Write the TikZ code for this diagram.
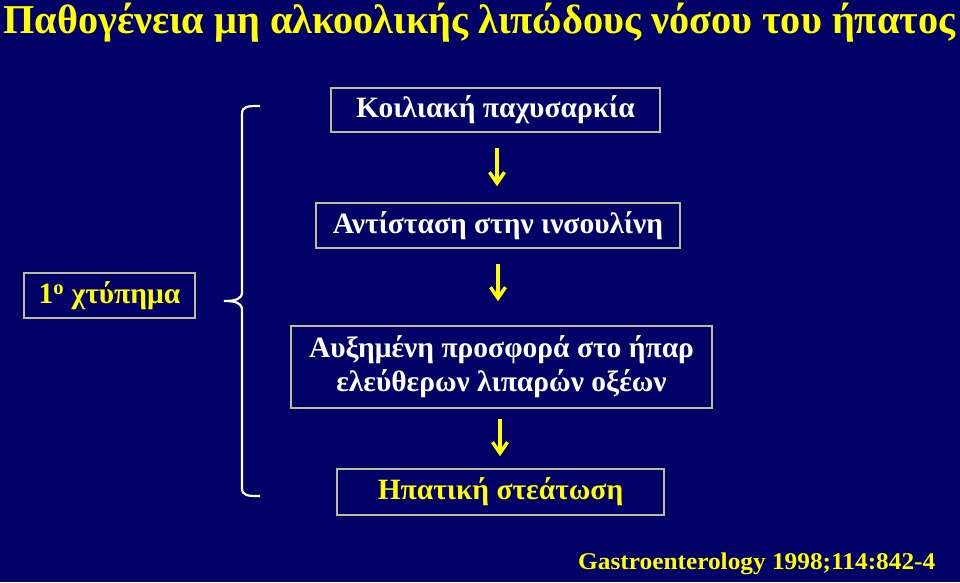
\documentclass[tikz,border=0pt]{standalone}
\usepackage{fontspec}
\setmainfont{Liberation Serif}
\usetikzlibrary{arrows.meta}
\definecolor{bgnavy}{RGB}{0,0,102}
\definecolor{ylw}{RGB}{255,255,0}
\definecolor{boxline}{RGB}{190,190,150}
\begin{document}
\begin{tikzpicture}[x=1pt,y=-1pt,
  box/.style={draw=boxline,line width=1.6pt,fill=bgnavy,inner sep=0pt,
    font=\bfseries\fontsize{29.5}{34}\selectfont,text=white,align=center},
  arr/.style={draw=ylw,line width=3.4pt,-{Straight Barb[length=11pt,width=15pt,line width=3.4pt]}},
  brace/.style={draw=white,line width=2.2pt}]
\fill[bgnavy] (0,0) rectangle (960,582);
\useasboundingbox (0,0) rectangle (960,582);
% title
\node[anchor=base west,inner sep=0pt,text=ylw] (title) at (3,33)
  {\resizebox{952pt}{\height}{\bfseries\fontsize{41}{48}\selectfont Παθογένεια μη αλκοολικής λιπώδους νόσου του ήπατος}};
% boxes
\node[box,minimum width=329pt,minimum height=44pt] (b1) at (495.5,110) {Κοιλιακή παχυσαρκία};
\node[box,minimum width=364pt,minimum height=45pt] (b2) at (498,225.5) {Αντίσταση στην ινσουλίνη};
\node[box,minimum width=421pt,minimum height=82pt] (b3) at (501.5,367) {Αυξημένη προσφορά στο ήπαρ\\ελεύθερων λιπαρών οξέων};
\node[box,minimum width=327pt,minimum height=46pt,text=ylw] (b4) at (500.5,492) {Ηπατική στεάτωση};
\node[box,minimum width=171pt,minimum height=45pt,text=ylw] (hit) at (109.5,295.5) {1\textsuperscript{o} χτύπημα};
% arrows
\draw[arr,shorten <=15pt,shorten >=16pt] ([xshift=1.5pt]b1.south) -- ([xshift=1.5pt]b1.south |- b2.north);
\draw[arr,shorten <=15pt,shorten >=24pt] (b2.south) -- (b2.south |- b3.north);
\draw[arr,shorten <=10pt,shorten >=12pt] ([xshift=-1.5pt]b3.south) -- ([xshift=-1.5pt]b3.south |- b4.north);
% brace
\draw[brace] (260,106) .. controls (248,106) and (242,106) .. (242,114)
  -- (242,292) .. controls (242,299) and (236,301) .. (224,301)
  .. controls (236,301) and (242,303) .. (242,310)
  -- (242,488) .. controls (242,496) and (248,496) .. (260,496);
% citation
\node[anchor=base west,inner sep=0pt,text=ylw] (cite) at (578,569)
  {\resizebox{357pt}{\height}{\bfseries\fontsize{24}{28}\selectfont Gastroenterology 1998;114:842-4}};
\end{tikzpicture}
\end{document}
